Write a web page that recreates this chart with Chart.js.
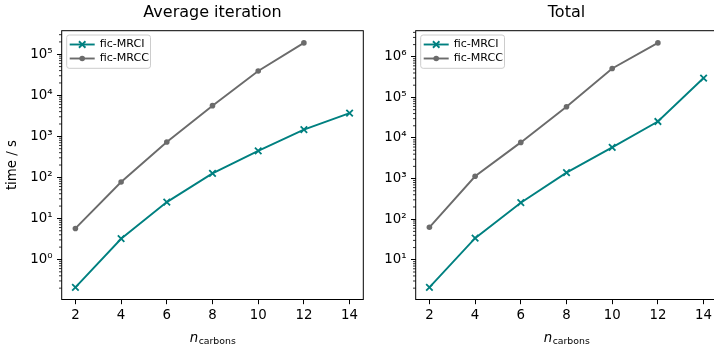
<!DOCTYPE html>
<html><head><meta charset="utf-8">
<script src="https://cdn.jsdelivr.net/npm/chart.js@4"></script>
<style>
html,body{margin:0;padding:0;background:#fff;overflow:hidden;width:714px;height:346px;position:relative;}
#c1{position:absolute;left:0;top:0;}
#c2{position:absolute;left:370px;top:0;}
</style></head><body>
<canvas id="c1" width="376" height="346"></canvas>
<canvas id="c2" width="360" height="346"></canvas>
<script>
// ---- data ----
const nCarbons = [2, 4, 6, 8, 10, 12, 14];
const avgMRCI = [0.21, 3.2, 25, 125, 445, 1450, 3700];
const avgMRCC = [5.7, 77, 730, 5600, 39000, 189000];
const totMRCI = [2.1, 34, 255, 1400, 5900, 25500, 300000];
const totMRCC = [63, 1140, 7800, 59000, 515000, 2200000];
const xTicks = [2, 4, 6, 8, 10, 12, 14];
const avgYTicks = [1, 10, 100, 1e3, 1e4, 1e5];
const totYTicks = [10, 100, 1e3, 1e4, 1e5, 1e6];
const panelTitles = ['Average iteration', 'Total'];
const seriesLabels = ['fic-MRCI', 'fic-MRCC'];
const yTitle = 'time / s';
const xTitleMain = 'n';
const xTitleSub = 'carbons';

// ---- styling ----
const FONT = "'DejaVu Sans', sans-serif";
const TEAL = '#008080';
const GRAY = '#6b6b6b';
const SUP = {'0':'⁰','1':'¹','2':'²','3':'³','4':'⁴','5':'⁵','6':'⁶','7':'⁷','8':'⁸','9':'⁹','-':'⁻'};
const supNum = e => String(e).split('').map(c => SUP[c]).join('');

function pts(xs, ys) { return ys.map((y, i) => ({x: xs[i], y: y})); }
function logLimits(arrs) {
  const all = [].concat(...arrs);
  const lo = Math.log10(Math.min(...all)), hi = Math.log10(Math.max(...all));
  const m = (hi - lo) * 0.05;
  return [Math.pow(10, lo - m), Math.pow(10, hi + m)];
}
function linLimits(xs) {
  const lo = Math.min(...xs), hi = Math.max(...xs), m = (hi - lo) * 0.05;
  return [lo - m, hi + m];
}

const extras = {
  id: 'extras',
  afterDraw(chart) {
    const ctx = chart.ctx, a = chart.chartArea;
    ctx.save();
    // minor log ticks
    const ys = chart.scales.y;
    ctx.strokeStyle = '#000'; ctx.lineWidth = 0.8;
    const e0 = Math.floor(Math.log10(ys.min)), e1 = Math.ceil(Math.log10(ys.max));
    ctx.beginPath();
    for (let e = e0; e <= e1; e++) {
      for (let k = 2; k <= 9; k++) {
        const v = k * Math.pow(10, e);
        if (v < ys.min || v > ys.max) continue;
        const py = ys.getPixelForValue(v);
        ctx.moveTo(a.left - 2.7, py); ctx.lineTo(a.left, py);
      }
    }
    ctx.stroke();
    // spines
    ctx.lineWidth = 1; ctx.strokeStyle = '#000';
    ctx.strokeRect(a.left, a.top, a.right - a.left, a.bottom - a.top);
    // x title with subscript
    const cx = (a.left + a.right) / 2;
    ctx.fillStyle = '#000';
    ctx.textBaseline = 'alphabetic'; ctx.textAlign = 'left';
    ctx.font = "italic 13.33px " + FONT;
    const wn = ctx.measureText(xTitleMain).width;
    ctx.font = "9.33px " + FONT;
    const ws = ctx.measureText(xTitleSub).width;
    const sx = cx - (wn + ws) / 2;
    ctx.font = "italic 13.33px " + FONT;
    ctx.fillText(xTitleMain, sx, a.bottom + 42);
    ctx.font = "9.33px " + FONT;
    ctx.fillText(xTitleSub, sx + wn + 0.5, a.bottom + 44.8);
    // legend
    const dsets = chart.data.datasets;
    ctx.font = "11.1px " + FONT;
    const tw = Math.max(...dsets.map(d => ctx.measureText(d.label).width));
    const lx = a.left + 5, ly = a.top + 4.3, w = 33 + tw + 1.5, h = 33.3;
    ctx.beginPath();
    ctx.roundRect(lx, ly, w, h, 2.5);
    ctx.fillStyle = 'rgba(255,255,255,0.8)'; ctx.fill();
    ctx.strokeStyle = '#cccccc'; ctx.lineWidth = 1; ctx.stroke();
    dsets.forEach((d, i) => {
      const y = ly + 9.5 + i * 14;
      ctx.strokeStyle = d.borderColor; ctx.lineWidth = d.borderWidth;
      ctx.beginPath(); ctx.moveTo(lx + 3, y); ctx.lineTo(lx + 28, y); ctx.stroke();
      ctx.strokeStyle = d.pointBorderColor; ctx.fillStyle = d.pointBackgroundColor;
      ctx.lineWidth = d.pointBorderWidth;
      Chart.helpers.drawPoint(ctx, {pointStyle: d.pointStyle, rotation: 0, radius: d.pointRadius, borderWidth: d.pointBorderWidth}, lx + 15.5, y);
      ctx.fillStyle = '#000'; ctx.textBaseline = 'middle'; ctx.textAlign = 'left';
      ctx.fillText(d.label, lx + 33, y);
    });
    ctx.restore();
  }
};

function makeChart(id, title, mrci, mrcc, yTicks, yAxisWidth, showYTitle, padRight) {
  const [ymin, ymax] = logLimits([mrci, mrcc]);
  const [xmin, xmax] = linLimits(nCarbons);
  return new Chart(document.getElementById(id), {
    type: 'line',
    data: {
      datasets: [
        {label: seriesLabels[0], data: pts(nCarbons, mrci), borderColor: TEAL, borderWidth: 1.9,
         pointStyle: 'crossRot', pointRadius: 4.6, pointHoverRadius: 4.6, pointBorderWidth: 1.8,
         pointBorderColor: TEAL, pointBackgroundColor: TEAL, tension: 0, fill: false},
        {label: seriesLabels[1], data: pts(nCarbons, mrcc), borderColor: GRAY, borderWidth: 1.9,
         pointStyle: 'circle', pointRadius: 2.8, pointHoverRadius: 2.8, pointBorderWidth: 0,
         pointBorderColor: GRAY, pointBackgroundColor: GRAY, tension: 0, fill: false}
      ]
    },
    options: {
      responsive: false, animation: false, devicePixelRatio: 1,
      layout: {padding: {left: 0, right: padRight, top: 0, bottom: 0}},
      plugins: {
        legend: {display: false}, tooltip: {enabled: false},
        title: {display: true, text: title, fullSize: false, color: '#000',
                font: {family: FONT, size: 16, weight: 'normal'}, padding: {top: 3.5, bottom: 8}}
      },
      scales: {
        x: {
          type: 'linear', min: xmin, max: xmax,
          afterBuildTicks: s => { s.ticks = xTicks.map(v => ({value: v})); },
          afterFit: s => { s.height = 46.5; },
          border: {display: false},
          grid: {drawOnChartArea: false, drawTicks: true, tickLength: 4.7, tickWidth: 1, tickColor: '#000'},
          ticks: {color: '#000', font: {family: FONT, size: 13.33}, padding: 3, maxRotation: 0, autoSkip: false,
                  callback: v => String(v)}
        },
        y: {
          type: 'logarithmic', min: ymin, max: ymax,
          afterBuildTicks: s => { s.ticks = yTicks.map(v => ({value: v})); },
          afterFit: s => { s.width = yAxisWidth; },
          border: {display: false},
          grid: {drawOnChartArea: false, drawTicks: true, tickLength: 4.7, tickWidth: 1, tickColor: '#000'},
          ticks: {color: '#000', font: {family: FONT, size: 13.33}, padding: 4.5, autoSkip: false,
                  callback: v => '10' + supNum(Math.round(Math.log10(v)))},
          title: {display: showYTitle, text: yTitle, color: '#000', font: {family: FONT, size: 13.33},
                  padding: {top: 5, bottom: 0}}
        }
      }
    },
    plugins: [extras]
  });
}

makeChart('c1', panelTitles[0], avgMRCI, avgMRCC, avgYTicks, 61.7, true, 12.7);
makeChart('c2', panelTitles[1], totMRCI, totMRCC, totYTicks, 45.7, false, 12.7);
</script>
</body></html>
